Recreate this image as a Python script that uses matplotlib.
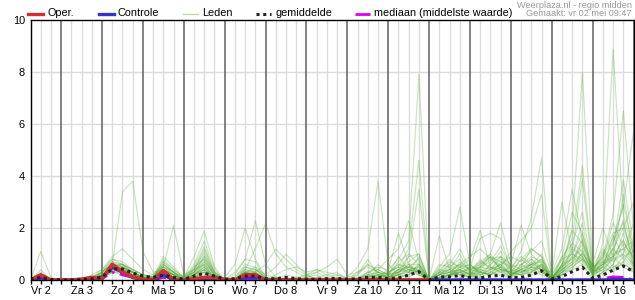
import numpy as np
import matplotlib
matplotlib.use('Agg')
import matplotlib.pyplot as plt
from matplotlib.lines import Line2D

plt.rcParams['font.family'] = ['Liberation Sans', 'DejaVu Sans']

# tijdstappen van 6 uur, vanaf vr 2 mei 06:00
stappen = np.arange(60)
dag_labels = ['Vr 2', 'Za 3', 'Zo 4', 'Ma 5', 'Di 6', 'Wo 7', 'Do 8', 'Vr 9',
              'Za 10', 'Zo 11', 'Ma 12', 'Di 13', 'Wo 14', 'Do 15', 'Vr 16']

# operationele run (10 dagen)
oper = [0, 0.2, 0, 0, 0, 0.03, 0.1, 0.05, 0.6, 0.32,
        0.12, 0.02, 0, 0.36, 0.02, 0, 0.05, 0.1, 0.1, 0.02,
        0, 0.2, 0.2, 0, 0, 0, 0, 0, 0, 0,
        0, 0, 0, 0, 0, 0, 0, 0, 0, 0]

controle = [0, 0.1, 0, 0, 0, 0, 0.03, 0.1, 0.5, 0.3,
            0.1, 0.02, 0, 0.2, 0, 0, 0.02, 0.05, 0.05, 0,
            0, 0.1, 0.1, 0, 0, 0, 0, 0, 0, 0,
            0, 0, 0, 0, 0, 0, 0, 0, 0, 0,
            0, 0, 0, 0, 0, 0, 0, 0, 0, 0,
            0, 0, 0, 0, 0, 0, 0, 0.02, 0.02, 0]

gemiddelde = [0.03, 0.1, 0.02, 0, 0, 0.02, 0.05, 0.1, 0.43, 0.42,
              0.27, 0.15, 0.1, 0.19, 0.1, 0.03, 0.15, 0.26, 0.15, 0.03,
              0.05, 0.15, 0.15, 0.05, 0.05, 0.1, 0.05, 0.03, 0.03, 0.05,
              0.06, 0.03, 0.05, 0.1, 0.1, 0.05, 0.08, 0.19, 0.32, 0.0,
              0.12, 0.12, 0.17, 0.1, 0.08, 0.15, 0.18, 0.1, 0.1, 0.19,
              0.36, 0.05, 0.13, 0.32, 0.49, 0.07, 0.19, 0.38, 0.54, 0.32]

mediaan = [0, 0.05, 0, 0, 0, 0, 0, 0.05, 0.3, 0.2,
           0.1, 0.02, 0, 0.1, 0.02, 0, 0.05, 0.1, 0.05, 0,
           0, 0.05, 0.05, 0, 0, 0, 0, 0, 0, 0,
           0, 0, 0, 0, 0, 0, 0, 0, 0, 0,
           0, 0, 0, 0, 0, 0, 0, 0, 0, 0,
           0, 0, 0, 0, 0, 0, 0.05, 0.12, 0.1, 0]

# ensemble leden
leden = [
    [0, 1.1, 0.1, 0, 0, 0, 0.1, 0.3, 0.7, 0.5,  0.3, 0.1, 0.1, 0.6, 0.3, 0.1, 0.3, 0.6, 0.2, 0,  0, 0.3, 0.2, 0, 0.1, 0, 0, 0, 0.1, 0,  0, 0, 0, 0.2, 0.1, 0, 0.3, 0.5, 0.3, 0,  0, 0.2, 0.4, 0.2, 0.6, 1.0, 0.5, 0.2, 0.3, 0.4,  0.2, 0, 0.3, 0.6, 0.9, 0.2, 0.4, 0.8, 1.0, 0.6],
    [0, 0.4, 0, 0, 0, 0, 0, 0.2, 0.5, 0.6,  0.4, 0.2, 0.1, 0.4, 0.2, 0, 0.2, 0.4, 0.1, 0,  0, 0.4, 0.3, 0.1, 0, 0, 0, 0.2, 0.3, 0.1,  0, 0, 0.2, 0.8, 0.2, 0, 0.1, 0.2, 0.6, 0,  0.1, 0.3, 0.1, 0, 0.3, 0.2, 0.4, 0.1, 0.5, 0.6,  1.0, 0.1, 0.2, 0.4, 0.6, 0, 0.3, 0.5, 0.7, 0.3],
    [0, 0.3, 0, 0, 0, 0.1, 0.1, 0.3, 0.6, 0.4,  0.2, 0, 0, 0.8, 0.4, 0.1, 0.4, 1.0, 0.3, 0,  0, 0.2, 0.2, 0, 0, 0.2, 0.1, 0, 0, 0,  0.1, 0, 0.3, 0.6, 0.3, 0.1, 0.4, 0.3, 0.9, 0,  0, 0.1, 0.5, 0.3, 0.2, 0.4, 0.8, 0.3, 0.2, 0.7,  0.4, 0.3, 1.2, 3.5, 1.5, 0.3, 0.6, 1.2, 0.8, 0.4],
    [0, 0.2, 0, 0, 0, 0, 0.2, 0.4, 0.8, 0.7,  0.4, 0.2, 0.1, 0.5, 0.3, 0, 0.1, 0.3, 0.1, 0,  0.1, 0.5, 0.4, 0.1, 0, 0, 0, 0, 0, 0,  0, 0.1, 0.5, 1.2, 3.8, 0.6, 0.2, 0.1, 0.4, 0,  0.2, 0.6, 0.3, 0.1, 0.4, 0.2, 0.3, 0.5, 0.9, 0.6,  0.8, 0.2, 0.9, 2.6, 1.8, 0.4, 0.2, 0.6, 1.4, 0.9],
    [0, 0.15, 0, 0, 0, 0, 0, 0.3, 0.6, 0.6,  0.3, 0.1, 0.2, 0.7, 0.4, 0.1, 0.5, 0.8, 0.2, 0,  0, 0.2, 0.1, 0, 0, 0, 0, 0, 0, 0,  0, 0, 0, 0.3, 0.5, 0.4, 1.8, 0.6, 0.3, 0,  0, 0.2, 0.7, 0.4, 0.3, 0.2, 0.5, 0.3, 0.2, 0.3,  0.6, 0.1, 0.5, 2.0, 8.0, 0.6, 0.3, 0.9, 1.2, 0.5],
    [0, 0.1, 0, 0, 0, 0, 0.1, 0.2, 0.4, 0.5,  0.3, 0.1, 0, 0.3, 0.1, 0, 0.2, 0.7, 0.2, 0,  0, 0.3, 0.5, 0.2, 0.1, 0, 0, 0, 0, 0,  0, 0, 0, 0.1, 0.4, 0.8, 1.2, 2.28, 0.7, 0,  0.3, 0.4, 0.2, 0.1, 0.5, 0.9, 0.4, 0.2, 0.6, 0.4,  0.3, 0.2, 0.8, 1.6, 4.4, 0.5, 0.7, 0.4, 0.9, 1.1],
    [0, 0.1, 0, 0, 0, 0, 0.1, 0.3, 0.6, 3.4,  3.8, 1.1, 0.3, 0.4, 0.2, 0, 0.2, 0.5, 0.1, 0,  0, 0.1, 0.1, 0, 0, 0, 0, 0, 0, 0,  0, 0, 0, 0, 0.1, 0.4, 0.8, 1.5, 7.9, 0,  0.2, 0.3, 0.6, 0.2, 0.1, 0.3, 0.6, 0.2, 0.4, 0.8,  0.5, 0.1, 0.4, 1.1, 3.9, 0.3, 0.6, 1.5, 2.2, 0.7],
    [0, 0.05, 0, 0, 0, 0, 0.1, 0.4, 0.9, 1.2,  0.8, 0.4, 0.2, 0.5, 0.3, 0, 0.3, 0.9, 0.3, 0,  0, 0.4, 0.3, 0, 0, 0.1, 0, 0, 0, 0.1,  0.2, 0, 0, 0.2, 0.6, 0.3, 0.5, 1.2, 4.6, 0,  0.1, 0.2, 0.3, 0.2, 0.7, 0.5, 0.3, 0.1, 0.3, 0.5,  0.4, 0, 0.3, 0.9, 2.2, 0.1, 0.3, 0.6, 1.8, 0.8],
    [0, 0.1, 0, 0, 0, 0, 0, 0.2, 0.5, 0.4,  0.3, 0.1, 0.1, 0.5, 2.1, 0.2, 0.4, 1.2, 0.3, 0,  0, 0.3, 0.3, 0, 0, 0, 0, 0, 0, 0,  0, 0, 0.1, 0.3, 0.2, 0.1, 0.2, 0.9, 3.5, 0,  0, 0.1, 0.4, 0.6, 0.3, 0.2, 0.4, 0.3, 0.5, 1.2,  0.9, 0, 0.6, 0.8, 1.35, 0.2, 0.5, 0.3, 0.7, 1.4],
    [0, 0.1, 0, 0, 0, 0, 0, 0.1, 0.5, 0.5,  0.2, 0.1, 0.1, 0.4, 0.2, 0.1, 0.9, 1.88, 0.5, 0,  0, 0.2, 0.1, 0, 0.1, 0, 0, 0, 0, 0,  0, 0, 0, 0.1, 0.3, 0.2, 0.4, 0.7, 1.0, 0,  0.2, 0.5, 0.8, 0.3, 0.1, 0.6, 1.1, 0.4, 0.2, 0.3,  0.5, 0.1, 0.4, 0.7, 1.0, 0.6, 2.0, 0.9, 0.5, 0.3],
    [0, 0, 0, 0, 0, 0, 0, 0.3, 0.7, 0.6,  0.4, 0.2, 0.1, 0.9, 0.5, 0.1, 0.6, 1.5, 0.4, 0,  0, 0.5, 0.4, 0.1, 0, 0, 0, 0, 0, 0,  0, 0, 0, 0, 0.2, 0.1, 0.3, 0.5, 0.8, 0,  0, 0.1, 0.3, 0.1, 0.2, 0.4, 0.6, 0.2, 0.4, 0.2,  0.3, 0, 0.2, 0.5, 0.8, 0.3, 1.1, 0.5, 0.6, 0.4],
    [0, 0.05, 0, 0, 0, 0, 0, 0.2, 0.6, 0.5,  0.3, 0.1, 0, 0.3, 0.2, 0, 0.5, 1.3, 0.3, 0,  0, 0.3, 0.2, 0, 0, 0, 0, 0, 0, 0,  0, 0, 0, 0.1, 0, 0.1, 0.2, 0.4, 0.3, 0,  1.7, 0.4, 0.2, 0.1, 0.3, 0.2, 0.7, 0.5, 0.3, 0.6,  0.4, 0, 0.6, 1.0, 0.7, 0.2, 1.4, 8.87, 2.5, 1.0],
    [0, 0, 0, 0, 0, 0, 0, 0.1, 0.4, 0.3,  0.2, 0, 0, 0.2, 0.1, 0, 0.4, 1.1, 0.2, 0,  0.1, 0.6, 0.5, 0, 0, 0, 0, 0, 0, 0,  0, 0, 0, 0, 0.1, 0, 0.2, 0.3, 0.5, 0,  0.3, 0.8, 0.4, 0.2, 0.4, 0.3, 0.2, 0.1, 0.6, 0.9,  0.7, 0, 0.3, 0.4, 1.1, 0.3, 0.8, 2.2, 1.3, 0.6],
    [0, 0, 0, 0, 0, 0, 0, 0.2, 0.5, 0.4,  0.2, 0.1, 0.1, 0.6, 0.3, 0.1, 0.3, 0.9, 0.2, 0,  0, 0.2, 0.1, 0, 0, 0, 0, 0.1, 0.2, 0,  0, 0, 0, 0.1, 0.2, 0.1, 0.1, 0.2, 0.4, 0,  0.5, 1.0, 2.8, 0.6, 0.2, 0.3, 0.5, 0.2, 0.2, 0.4,  0.6, 0.1, 0.5, 0.9, 0.6, 0.1, 0.5, 1.7, 0.9, 0.5],
    [0, 0, 0, 0, 0, 0, 0, 0.3, 0.8, 0.6,  0.3, 0.1, 0.1, 0.7, 0.3, 0, 0.3, 0.7, 0.2, 0,  0, 0.3, 0.3, 0, 0, 0, 0, 0, 0, 0,  0, 0, 0, 0.2, 0.3, 0.1, 0.3, 0.6, 0.6, 0,  0.3, 0.6, 1.2, 0.4, 0.6, 0.9, 0.4, 0.3, 0.8, 0.5,  0.3, 0, 0.4, 0.6, 1.5, 0.4, 0.9, 2.5, 6.5, 2.0],
    [0, 0, 0, 0, 0, 0, 0, 0.2, 0.4, 0.3,  0.2, 0, 0, 0.4, 0.2, 0, 0.2, 0.5, 0.1, 0,  0, 0.2, 0.2, 0, 0, 0, 0, 0, 0, 0,  0, 0, 0, 0, 0.1, 0.2, 0.3, 0.4, 0.5, 0,  0.2, 0.4, 1.0, 0.3, 0.5, 0.4, 0.9, 0.3, 0.2, 0.5,  0.4, 0, 0.2, 1.3, 0.9, 0.3, 0.5, 1.2, 3.85, 1.3],
    [0, 0, 0, 0, 0, 0, 0, 0.1, 0.3, 0.3,  0.1, 0, 0, 0.3, 0.1, 0, 0.2, 0.4, 0.1, 0.1,  0.6, 2.0, 0.8, 0.1, 0, 0, 0, 0, 0, 0,  0, 0, 0, 0, 0, 0.1, 0.4, 0.5, 0.4, 0,  0.1, 0.2, 0.5, 0.8, 1.9, 0.5, 0.3, 0.2, 0.4, 0.6,  0.5, 0, 0.5, 0.8, 1.2, 0.2, 0.6, 0.8, 3.3, 0.9],
    [0, 0, 0, 0, 0, 0, 0, 0.1, 0.4, 0.4,  0.2, 0.1, 0, 0.3, 0.1, 0, 0.2, 0.6, 0.1, 0,  0.3, 0.8, 2.28, 0.6, 0.1, 0, 0, 0, 0, 0,  0, 0, 0, 0, 0, 0.1, 0.2, 0.3, 0.6, 0,  0.2, 0.3, 0.2, 0.5, 1.6, 1.8, 1.6, 0.4, 0.3, 0.5,  0.8, 0, 0.4, 0.7, 1.6, 0.5, 0.8, 1.4, 2.9, 1.2],
    [0, 0, 0, 0, 0, 0, 0, 0.2, 0.5, 0.4,  0.3, 0.1, 0.1, 0.4, 0.2, 0, 0.3, 0.8, 0.2, 0,  0, 0.4, 1.2, 2.18, 1.0, 0.5, 0.3, 0.1, 0, 0,  0, 0, 0, 0, 0.1, 0.3, 0.5, 0.3, 0.2, 0,  0, 0.2, 0.3, 0.4, 0.7, 1.0, 2.2, 0.6, 0.4, 0.3,  0.6, 0, 0.8, 1.0, 1.8, 0.3, 0.5, 1.1, 2.3, 0.5],
    [0, 0, 0, 0, 0, 0, 0, 0.2, 0.6, 0.5,  0.3, 0.1, 0, 0.5, 0.2, 0, 0.4, 0.6, 0.1, 0,  0.2, 0.8, 0.7, 0, 0, 0, 0, 0, 0, 0,  0, 0, 0.1, 0.2, 0.1, 0.2, 0.3, 0.6, 0.2, 0,  0.4, 0.3, 0.4, 0.2, 0.5, 0.7, 1.3, 0.5, 0.6, 0.8,  0.4, 0, 0.3, 0.5, 0.8, 0.2, 0.7, 0.9, 1.55, 0.6],
    [0, 0, 0, 0, 0, 0, 0, 0.1, 0.4, 0.5,  0.3, 0.1, 0, 0.2, 0.1, 0, 0.1, 0.3, 0.1, 0,  0, 0.2, 0.3, 0.6, 1.19, 0.8, 0.4, 0.2, 0, 0,  0, 0, 0, 0, 0.1, 0.1, 0.2, 0.4, 0.3, 0,  0.2, 0.3, 0.6, 0.9, 1.2, 0.8, 0.9, 0.6, 2.1, 1.0,  0.6, 0, 0.3, 0.6, 1.0, 0.4, 0.9, 1.6, 2.8, 5.7],
    [0, 0, 0, 0, 0, 0, 0, 0.2, 0.5, 0.6,  0.4, 0.2, 0.1, 0.6, 0.3, 0, 0.2, 0.5, 0.1, 0,  0, 0.3, 0.4, 0.2, 0.5, 0.99, 0.6, 0.2, 0, 0,  0, 0, 0, 0.1, 0.2, 0.1, 0.4, 0.9, 1.0, 0,  0.1, 0.2, 0.4, 0.2, 0.3, 0.6, 0.9, 0.4, 1.1, 2.4,  4.7, 0.1, 0.6, 1.4, 2.6, 0.4, 1.0, 1.8, 2.0, 3.0],
    [0, 0, 0, 0, 0, 0, 0, 0.1, 0.3, 0.4,  0.2, 0.1, 0, 0.4, 0.2, 0, 0.1, 0.4, 0.1, 0,  0, 0.1, 0.1, 0, 0.2, 0.4, 0.5, 0.3, 0.4, 0.2,  0.1, 0, 0, 0.3, 0.4, 0.2, 0.6, 0.4, 0.3, 0,  0.3, 0.2, 0.3, 0.5, 0.4, 0.8, 0.5, 1.1, 1.5, 2.0,  3.3, 0.1, 0.5, 1.2, 0.9, 0.2, 0.4, 1.0, 1.2, 1.5],
    [0, 0, 0, 0, 0, 0, 0, 0.1, 0.3, 0.3,  0.2, 0.1, 0, 0.2, 0.1, 0, 0.2, 0.3, 0, 0,  0, 0.2, 0.2, 0, 0, 0, 0, 0.1, 0.3, 0.5,  0.8, 0.2, 0.3, 0.5, 0.3, 0.2, 0.7, 1.0, 0.6, 0,  0.6, 0.5, 0.2, 0.3, 0.8, 0.4, 0.6, 0.9, 0.7, 1.1,  1.5, 0.2, 3.0, 1.0, 0.8, 0.5, 1.2, 0.7, 1.0, 2.2],
    [0, 0, 0, 0, 0, 0, 0, 0.2, 0.4, 0.4,  0.3, 0.1, 0.1, 0.5, 0.2, 0, 0.2, 0.4, 0.1, 0,  0, 0.3, 0.2, 0, 0, 0, 0.1, 0.2, 0.4, 0.3,  0.2, 0.1, 0.2, 0.6, 0.4, 0.2, 0.9, 0.4, 0.2, 0,  0.4, 0.7, 0.5, 0.6, 0.3, 0.5, 0.4, 0.3, 0.8, 1.2,  0.9, 0, 0.6, 1.9, 1.4, 0.4, 0.6, 0.9, 1.5, 0.8],
    [0, 0, 0, 0, 0, 0, 0, 0.1, 0.3, 0.2,  0.1, 0, 0, 0.3, 0.1, 0, 0.1, 0.3, 0, 0,  0, 0.1, 0.1, 0, 0, 0, 0, 0, 0.1, 0.2,  0.3, 0, 0, 0.1, 0.2, 0.3, 0.6, 0.5, 0.4, 0,  0.2, 0.4, 0.6, 0.4, 0.5, 0.9, 0.7, 0.2, 0.4, 0.6,  0.7, 0, 0.9, 1.4, 1.1, 0.3, 0.7, 1.2, 2.0, 1.0],
]

fig = plt.figure(figsize=(6.35, 3.0), dpi=100)
ax = fig.add_axes([30.5/635, 20/300, 603/635, 260/300])

# raster: elke 6 uur licht, elke dag donker
for i in stappen:
    if i % 4 == 3:
        ax.axvline(i, color='#606060', lw=1.1, zorder=1)
    else:
        ax.axvline(i, color='#dcdcdc', lw=1, zorder=0)
for y in [2, 4, 6, 8]:
    ax.axhline(y, color='#dcdcdc', lw=1, zorder=0)

for lid in leden:
    ax.plot(stappen, lid, color='#55aa33', lw=0.9, alpha=0.3, zorder=2)

ax.plot(stappen, mediaan, color='#dd00ee', lw=2, linestyle=(0, (6, 2, 1, 2)), zorder=3)
ax.plot(stappen, controle, color='#3333cc', lw=2.4, zorder=4)
ax.plot(stappen[:len(oper)], oper, color='#d03030', lw=2.6, zorder=5)
ax.plot(stappen, gemiddelde, color='#222222', lw=2.2, linestyle=(0, (1, 1.2)), zorder=6)

ax.set_xlim(0, 59)
ax.set_ylim(0, 10)
ax.set_yticks([0, 2, 4, 6, 8, 10])
ax.set_yticklabels(['0', '2', '4', '6', '8', '10'], fontsize=7.9)
ax.tick_params(axis='y', length=0, pad=4)
ax.set_xticks(stappen)
ax.set_xticklabels([dag_labels[(i - 1) // 4] if i % 4 == 1 else '' for i in stappen], fontsize=7.9)
ax.tick_params(axis='x', length=3, width=1, pad=1.5, direction='out')
for sp in ax.spines.values():
    sp.set_color('black')
    sp.set_linewidth(1)
    sp.set_zorder(7)

# legenda bovenaan
def legitem(x0, label, **kw):
    fig.add_artist(Line2D([x0/635, (x0+15)/635], [1-13.5/300, 1-13.5/300], **kw))
    fig.text((x0+19)/635, 1-13.5/300, label, fontsize=7.8, va='center', ha='left')

legitem(28, 'Oper.', color='#d03030', lw=2.4)
legitem(99, 'Controle', color='#3333cc', lw=2.4)
legitem(183, 'Leden', color='#b8dcb0', lw=1)
legitem(256, 'gemiddelde', color='#222222', lw=2.2, linestyle=(0, (1, 1.2)))
legitem(355, 'mediaan (middelste waarde)', color='#dd00ee', lw=2, linestyle=(0, (6, 2, 1, 2)))

fig.text(632/635, 1-5/300, 'Weerplaza.nl - regio midden', fontsize=6.6, color='#999999', ha='right', va='center')
fig.text(632/635, 1-14/300, 'Gemaakt: vr 02 mei 09:47', fontsize=6.6, color='#999999', ha='right', va='center')

fig.savefig('out.png', dpi=100)
